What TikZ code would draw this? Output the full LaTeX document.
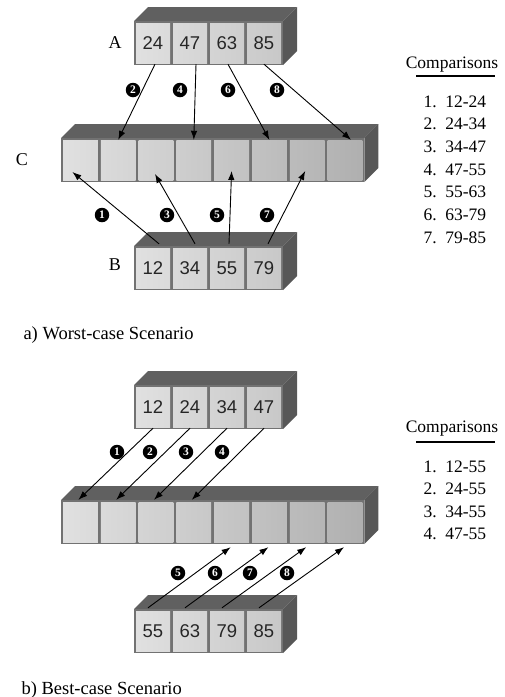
\documentclass[tikz,border=0pt]{standalone}
\usepackage{fontspec}
\setmainfont{Liberation Serif}
\newfontfamily\cellfont{Liberation Sans}
\usetikzlibrary{arrows.meta,calc}

\definecolor{boxtop}{HTML}{606060}
\definecolor{boxside}{HTML}{575757}
\definecolor{boxedge}{HTML}{727272}

\begin{document}
\begin{tikzpicture}[
    x=1pt, y=-1pt,
    cell node/.style={minimum width=#1, minimum height=40, inner sep=0pt, text=black!85, font=\cellfont\fontsize{18.5}{18.5}\selectfont},
    tag node/.style={font=\fontsize{18}{18}\selectfont},
    badge/.style={circle, fill=black, text=white, inner sep=0pt, minimum size=14.5, font=\bfseries\fontsize{11.5}{11.5}\selectfont},
    link/.style={draw=black, line width=0.9pt, -{Latex[length=9pt,width=6.5pt]}},
    head node/.style={anchor=base, font=\fontsize{17.5}{17.5}\selectfont},
    list item/.style={anchor=base west, font=\fontsize{17.5}{17.5}\selectfont},
    caption node/.style={anchor=base west, font=\fontsize{18.5}{18.5}\selectfont}
]

\useasboundingbox (0,0) rectangle (505,697);

%================ARRAY BOX================
% #1 name, #2 left x, #3 front top y, #4 cells, #5 cell pitch, #6 values
\def\drawarray#1#2#3#4#5#6{
    % --- 1. Box faces ---
    \pgfmathsetmacro{\xEnd}{#2 + #4*#5 + 1}
    \pgfmathsetmacro{\yEnd}{#3 + 44}
    \fill[boxtop] (#2,#3) -- ++(14,-14) -- (\xEnd+14,#3-14) -- (\xEnd,#3) -- cycle;
    \fill[boxside] (\xEnd,#3) -- (\xEnd+14,#3-14) -- (\xEnd+14,\yEnd-14) -- (\xEnd,\yEnd) -- cycle;
    \fill[boxedge] (#2,#3) rectangle (\xEnd,\yEnd);
    % --- 2. Cells (darker to the right) ---
    \foreach \v [count=\c] in {#6} {
        \pgfmathsetmacro{\xc}{#2 + 0.5 + (\c-0.5)*#5}
        \pgfmathsetmacro{\lc}{12 + 2.4*(\c-1)}
        \pgfmathsetmacro{\rc}{\lc + 2.4}
        \node[cell node={#5-3}, left color=black!\lc, right color=black!\rc] (#1\c) at (\xc, #3+22) {\v};
    }
}
%=========================================

% --- a) worst case ---
\drawarray{A}{134}{21}{4}{37}{24,47,63,85}
\drawarray{C}{61}{138}{8}{37.8}{{},{},{},{},{},{},{},{}}
\drawarray{B}{134}{246}{4}{37}{12,34,55,79}

\node[tag node] (labA) at (115,43) {A};
\node[tag node] (labC) at (22,160) {C};
\node[tag node] (labB) at (115,265) {B};

\draw[link] ($(A1.south)+(2,1)$) -- (C2.north);
\draw[link] ($(A2.south)+(6,1)$) -- (C4.north);
\draw[link] ($(A3.south)+(1,1)$) -- (C6.north);
\draw[link] ($(A4.south)+(0,1)$) -- ($(C8.north)+(6,0)$);
\draw[link] ($(B1.north)+(6,-4)$) -- ($(C1)+(-8,12)$);
\draw[link] ($(B2.north)+(5,-4)$) -- ($(C3)+(-1,14)$);
\draw[link] ($(B3.north)+(2,-4)$) -- ($(C5)+(0,11)$);
\draw[link] ($(B4.north)+(4,-4)$) -- ($(C7)+(-2,11)$);

\foreach \n/\x/\y in {2/133/90, 4/180/90, 6/228/90, 8/277/90, 1/102/215, 3/167/215, 5/217/215, 7/267/215}
    \node[badge] (w\n) at (\x,\y) {\n};

\node[head node] (cmpA) at (452,68) {Comparisons};
\draw[line width=2.8pt] (416,76) -- (495,76);
\foreach \pair [count=\c] in {12-24,24-34,34-47,47-55,55-63,63-79,79-85}
    \node[list item] (wc\c) at (420, {107 + 22.67*(\c-1)}) {\c.\enspace\pair};

\node[caption node] (capA) at (20,339) {a) Worst-case Scenario};

% --- b) best case ---
\drawarray{P}{134}{385}{4}{37}{12,24,34,47}
\drawarray{M}{61}{500}{8}{37.8}{{},{},{},{},{},{},{},{}}
\drawarray{Q}{134}{609}{4}{37}{55,63,79,85}

\foreach \k in {1,...,4}
    \draw[link] ($(P\k.south)+(0,1)$) -- ($(M\k.north)+(-2,-2)$);
\foreach \k [evaluate=\k as \m using int(\k+4)] in {1,...,4}
    \draw[link] ($(Q\k.north)+(-5,-3)$) -- ($(M\m.south)+(-1,5)$);

\foreach \n/\x/\y in {1/117/452, 2/150/452, 3/186/452, 4/222/452, 5/178/573, 6/215/573, 7/250/573, 8/287/573}
    \node[badge] (b\n) at (\x,\y) {\n};

\node[head node] (cmpB) at (452,432) {Comparisons};
\draw[line width=2.8pt] (416,442) -- (495,442);
\foreach \pair [count=\c] in {12-55,24-55,34-55,47-55}
    \node[list item] (bc\c) at (420, {472 + 22.5*(\c-1)}) {\c.\enspace\pair};

\node[caption node] (capB) at (18,694) {b) Best-case Scenario};

\end{tikzpicture}
\end{document}
